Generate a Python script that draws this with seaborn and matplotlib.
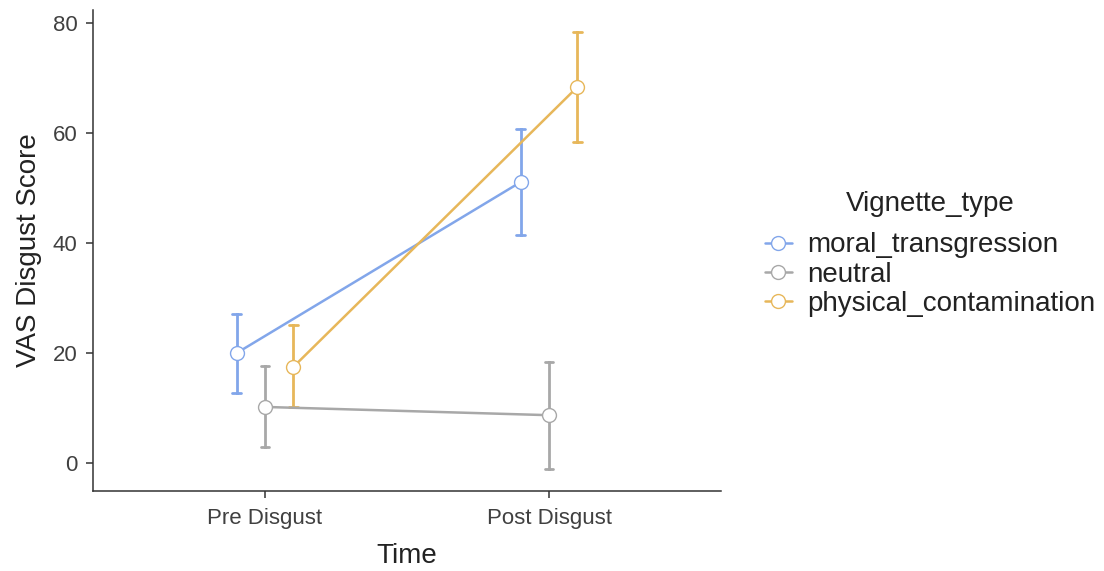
import numpy as np
import pandas as pd
import seaborn as sns
import matplotlib
matplotlib.use("Agg")
import matplotlib.pyplot as plt

times = ["Pre Disgust", "Post Disgust"]
vignettes = ["moral_transgression", "neutral", "physical_contamination"]
colors = ["#82A6EA", "#A8A8A8", "#E7B75A"]

# mean, lower, upper per vignette for Pre / Post
mean_pre = [20.0, 10.2, 17.5]
low_pre = [12.7, 2.9, 10.2]
up_pre = [27.1, 17.6, 25.1]
mean_post = [51.1, 8.7, 68.4]
low_post = [41.5, -1.1, 58.4]
up_post = [60.7, 18.4, 78.4]

rows = []
for i, v in enumerate(vignettes):
    for t, m, lo, hi in [(times[0], mean_pre[i], low_pre[i], up_pre[i]),
                         (times[1], mean_post[i], low_post[i], up_post[i])]:
        for val in (lo, m, hi):
            rows.append({"Time": t, "Vignette_type": v, "score": val})
df = pd.DataFrame(rows)

sns.set_theme(style="ticks")
plt.rcParams["font.family"] = ["Liberation Sans", "DejaVu Sans"]

fig = plt.figure(figsize=(11.04, 5.71), dpi=100)
ax = fig.add_axes([0.0842, 0.140, 0.569, 0.8425])

sns.pointplot(data=df, x="Time", y="score", hue="Vignette_type", order=times,
              hue_order=vignettes, palette=colors, estimator=np.median,
              errorbar=lambda v: (np.min(v), np.max(v)), dodge=0.2,
              capsize=0.03, linewidth=1.8, markersize=8, markers="o",
              err_kws={"linewidth": 2.0}, ax=ax)

for ln in ax.lines:
    if ln.get_marker() not in (None, "None", "", " "):
        ln.set_markerfacecolor("white")
        ln.set_markeredgewidth(1.0)
        ln.set_markersize(10)
        ln.set_zorder(5)

ax.set_xlim(0.394 - 1, 2.606 - 1)
ax.set_ylim(-5.1, 82.4)
ax.set_yticks([0, 20, 40, 60, 80])
sns.despine(ax=ax)
for s in ["left", "bottom"]:
    ax.spines[s].set_color("#333333")
    ax.spines[s].set_linewidth(1.1)
ax.tick_params(axis="both", labelsize=16, labelcolor="#404040", color="#333333",
               length=5, width=1.1)
ax.tick_params(axis="y", pad=6)
ax.tick_params(axis="x", pad=7)
ax.set_xlabel("Time", fontsize=20, color="#222222", labelpad=10)
ax.set_ylabel("VAS Disgust Score", fontsize=20, color="#222222", labelpad=8)

handles, labels = ax.get_legend_handles_labels()
if ax.get_legend() is not None:
    ax.get_legend().remove()
for h in handles:
    try:
        h.set_markerfacecolor("white")
        h.set_markeredgewidth(1.0)
        h.set_markersize(10)
    except Exception:
        pass
leg = fig.legend(handles, labels, title="Vignette_type", loc="center left",
                 bbox_to_anchor=(0.680, 0.555), frameon=False, fontsize=20,
                 title_fontsize=20, handlelength=1.0, handletextpad=0.55,
                 labelspacing=0.12, borderpad=0, labelcolor="#222222")
leg.get_title().set_color("#222222")
leg._legend_box.sep = 11

fig.savefig("out.png", dpi=100)
